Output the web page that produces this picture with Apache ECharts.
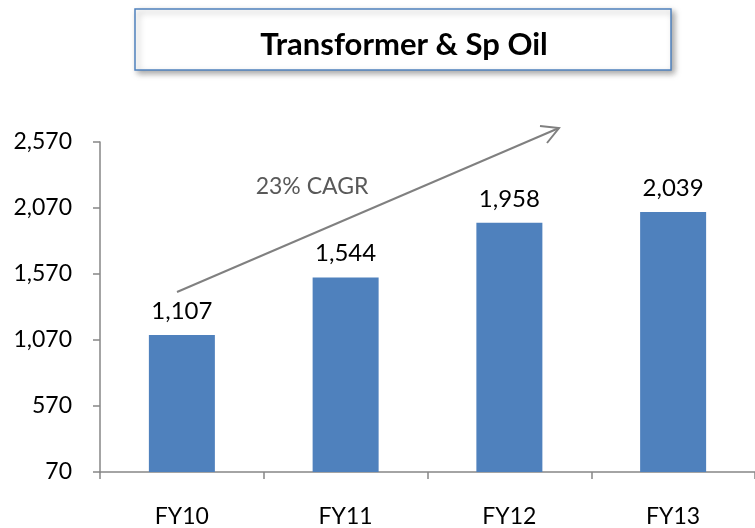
<!DOCTYPE html>
<html>
<head>
<meta charset="utf-8">
<script src="https://cdn.jsdelivr.net/npm/echarts@6/dist/echarts.min.js"></script>
<style>html,body{margin:0;padding:0;background:#fff}#c{width:755px;height:528px}</style>
</head>
<body>
<div id="c"></div>
<script>
const titleText = 'Transformer & Sp Oil';
const categories = ['FY10', 'FY11', 'FY12', 'FY13'];
const values = [1107, 1544, 1958, 2039];
const yTicks = { min: 70, max: 2570, interval: 500 };
const cagrText = '23% CAGR';

const FONT = 'Lato';
const chart = echarts.init(document.getElementById('c'), null, { renderer: 'canvas' });
const fmt = v => Number(v).toLocaleString('en-US');

chart.setOption({
  animation: false,
  grid: { left: 100, top: 142, width: 660, height: 330, containLabel: false },
  xAxis: {
    type: 'category',
    data: categories,
    axisLine: { lineStyle: { color: '#868686', width: 1.5 } },
    axisTick: { show: true, length: 7, lineStyle: { color: '#868686', width: 1.5 } },
    axisLabel: { color: '#000', fontFamily: FONT, fontSize: 23, margin: 33 }
  },
  yAxis: {
    type: 'value',
    min: yTicks.min, max: yTicks.max, interval: yTicks.interval,
    splitLine: { show: false },
    axisLine: { show: true, lineStyle: { color: '#868686', width: 1.5 } },
    axisTick: { show: true, length: 7, lineStyle: { color: '#868686', width: 1.5 } },
    axisLabel: { color: '#000', fontFamily: FONT, fontSize: 23, margin: 28, formatter: fmt }
  },
  series: [{
    type: 'bar',
    data: values,
    barWidth: 66,
    itemStyle: { color: '#4f81bd' },
    label: { show: true, position: 'top', distance: 12, color: '#000', fontFamily: FONT, fontSize: 24, formatter: p => fmt(p.value) }
  }],
  graphic: [
    {
      type: 'rect', shape: { x: 135, y: 9, width: 536, height: 61 },
      style: { fill: '#fff', stroke: '#4f81bd', lineWidth: 1.5, shadowBlur: 6, shadowOffsetX: 3, shadowOffsetY: 3, shadowColor: 'rgba(0,0,0,0.35)' }
    },
    {
      type: 'text', x: 404, y: 45,
      style: { text: titleText, fill: '#000', font: 'bold 31px ' + FONT, textAlign: 'center', textVerticalAlign: 'middle' }
    },
    {
      type: 'polyline', shape: { points: [[177, 292], [559, 128]] },
      style: { stroke: '#808080', lineWidth: 2, fill: null }
    },
    {
      type: 'polyline', shape: { points: [[540, 126], [559, 128], [547, 143]] },
      style: { stroke: '#808080', lineWidth: 2, fill: null }
    },
    {
      type: 'text', x: 312, y: 187,
      style: { text: cagrText, fill: '#595959', font: '23px ' + FONT, textAlign: 'center', textVerticalAlign: 'middle' }
    }
  ]
});
</script>
</body>
</html>
